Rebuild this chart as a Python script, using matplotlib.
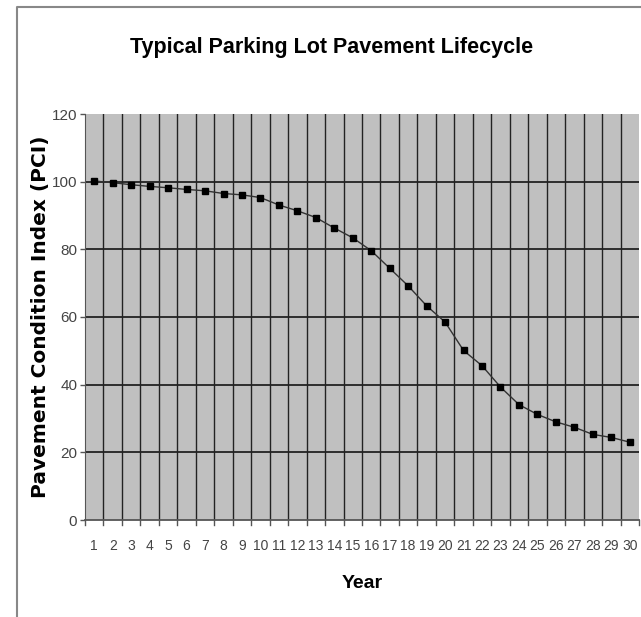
import matplotlib.pyplot as plt
from matplotlib.lines import Line2D
import numpy as np

years = list(range(1, 31))
pci = [100.2, 99.7, 99.1, 98.6, 98.2, 97.7, 97.3, 96.5, 96.1, 95.3,
       93.1, 91.4, 89.4, 86.3, 83.4, 79.6, 74.4, 69.2, 63.3, 58.5,
       50.1, 45.6, 39.3, 34.1, 31.2, 29.0, 27.4, 25.3, 24.4, 23.0]
y_ticks = [0, 20, 40, 60, 80, 100, 120]

plt.rcParams['font.family'] = ['Liberation Sans', 'DejaVu Sans']

fig = plt.figure(figsize=(6.41, 6.17), dpi=100)
ax = fig.add_axes([85/641, 1 - 520/617, 554/641, 406/617])
ax.set_facecolor('#c0c0c0')

ax.plot(years, pci, color='#333333', lw=1.0, marker='s', ms=4.8,
        mfc='black', mec='black', zorder=3)

ax.set_xlim(0.5, 30.5)
ax.set_ylim(0, 120)

# gridlines at category boundaries like excel
bounds = np.arange(0.5, 31, 1)
for b in bounds[1:-1]:
    ax.axvline(b, color='#222222', lw=1.0, zorder=1)
for t in y_ticks[1:-1]:
    ax.axhline(t, color='#222222', lw=1.3, zorder=1)

ax.set_yticks(y_ticks)
ax.set_yticklabels([str(t) for t in y_ticks], fontsize=11, color='#444444')
ax.set_xticks(years)
ax.set_xticklabels([str(y) for y in years], fontsize=10, color='#444444')
ax.tick_params(axis='x', length=0, pad=14)
ax.tick_params(axis='y', length=3.6, width=1, color='#555555', pad=2)

# small boundary ticks under the x axis
for b in bounds:
    ax.plot([b, b], [0, -1.5], color='#555555', lw=1, clip_on=False)

for side in ['top', 'right']:
    ax.spines[side].set_visible(False)
ax.spines['left'].set_color('#555555')
ax.spines['bottom'].set_color('#555555')
ax.spines['bottom'].set_linewidth(1.3)

ax.set_xlabel('Year', fontweight='bold', fontsize=14)
ax.xaxis.set_label_coords(0.5, -64/406)
ax.set_ylabel('Pavement Condition Index (PCI)', family='DejaVu Sans',
              fontweight='bold', fontsize=14.5)
ax.yaxis.set_label_coords(-44/554, 0.5)
ax.yaxis.label.set_va('center')
ax.xaxis.label.set_va('center')

fig.text(332/641, 1 - 48/617, 'Typical Parking Lot Pavement Lifecycle',
         fontweight='bold', fontsize=15.5, ha='center', va='center')

# chart area border (only top and left show in the crop)
fig.add_artist(Line2D([16.5/641, 16.5/641, 1], [0, 1 - 6.5/617, 1 - 6.5/617],
                      transform=fig.transFigure, color='#888888', lw=1.5))

plt.savefig('out.png', dpi=100)
